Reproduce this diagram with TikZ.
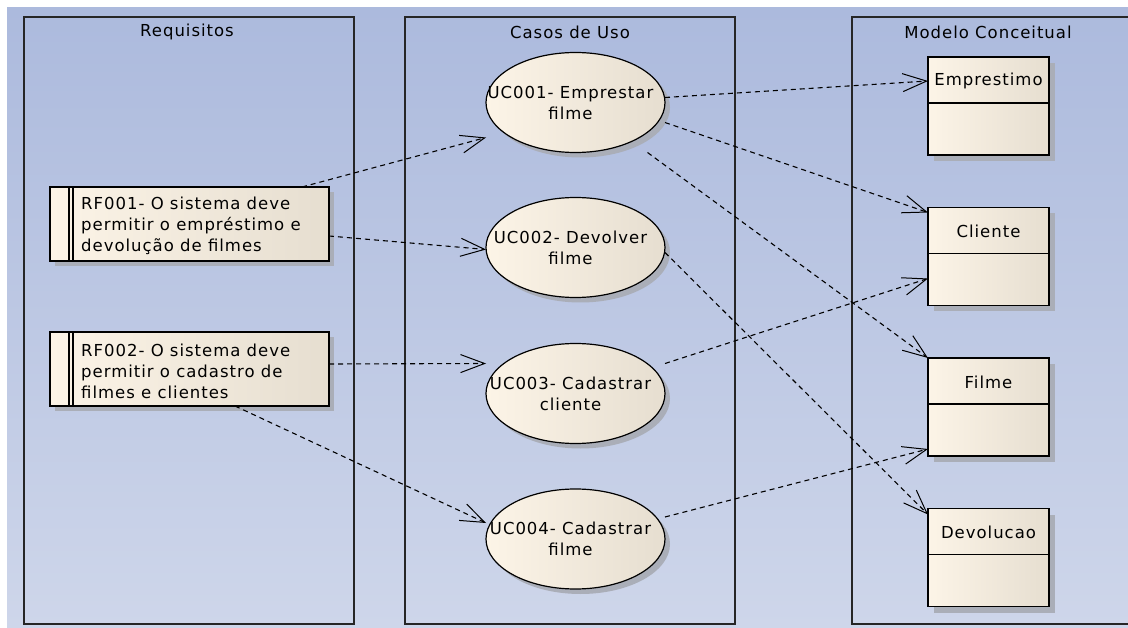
\documentclass[tikz,border=0pt]{standalone}
\usepackage{fontspec}
\newfontfamily\uifont{DejaVu Sans}[LetterSpace=6]
\usetikzlibrary{arrows.meta,shapes.geometric,calc,shadows}
\definecolor{bgtop}{RGB}{172,186,221}
\definecolor{bgbot}{RGB}{206,214,234}
\definecolor{creamL}{RGB}{252,244,231}
\definecolor{creamR}{RGB}{230,222,208}
\definecolor{shade}{RGB}{170,174,184}
\tikzset{
  frame/.style={draw=black!85,line width=1.8pt,inner sep=0pt,outer sep=0pt},
  title/.style={inner sep=0pt,anchor=center},
  reqbox/.style={draw=black,line width=1.4pt,left color=creamL,right color=creamR,
    minimum width=279pt,minimum height=74pt,inner sep=0pt,outer sep=0pt,
    drop shadow={shadow xshift=5pt,shadow yshift=-5pt,fill=shade,opacity=1}},
  ucase/.style={ellipse,draw=black,line width=1.2pt,left color=creamL,right color=creamR,
    minimum width=179pt,minimum height=100pt,inner sep=0pt,outer sep=0pt,
    drop shadow={shadow xshift=5pt,shadow yshift=-5pt,fill=shade,opacity=1}},
  classbox/.style={draw=black,line width=1.4pt,left color=creamL,right color=creamR,
    minimum width=121pt,minimum height=98pt,inner sep=0pt,outer sep=0pt,
    drop shadow={shadow xshift=6pt,shadow yshift=-6pt,fill=shade,opacity=1}},
  txt/.style={inner sep=0pt,align=center},
  dep/.style={draw=black,line width=1.1pt,dash pattern=on 5pt off 4pt,
    -{Straight Barb[length=24pt,width=18pt,line width=1pt]}},
}
\begin{document}
\begin{tikzpicture}[x=1pt,y=-1pt,font=\uifont\fontsize{16.5}{21}\selectfont]
\useasboundingbox (0,0) rectangle (1128,628);
\clip (0,0) rectangle (1128,628);
\fill[white] (0,0) rectangle (1128,628);
\fill[top color=bgtop,bottom color=bgbot] (7,8) rectangle (1128,628);

% frames
\node[frame,minimum width=330pt,minimum height=607pt] (req) at (189,320.5) {};
\node[frame,minimum width=330pt,minimum height=607pt] (cas) at (570,320.5) {};
\node[frame,minimum width=290pt,minimum height=607pt] (mod) at (997,320.5) {};
\node[title] (treq) at ($(req.north)+(-2,15)$) {Requisitos};
\node[title] (tcas) at ($(cas.north)+(0,15)$) {Casos de Uso};
\node[title] (tmod) at (988,32) {Modelo Conceitual};

% requirement boxes
\node[reqbox] (rf1) at (189.5,224) {};
\node[reqbox] (rf2) at (189.5,369) {};
\foreach \r in {rf1,rf2}{
  \draw[line width=1.1pt] ($(\r.north west)+(19,0)$) -- ($(\r.south west)+(19,0)$);
  \draw[line width=1.1pt] ($(\r.north west)+(23,0)$) -- ($(\r.south west)+(23,0)$);
}
\node[txt,align=left,anchor=west] (rf1t) at ($(rf1.west)+(31,2)$) {RF001- O sistema deve\\permitir o empréstimo e\\devolução de filmes};
\node[txt,align=left,anchor=west] (rf2t) at ($(rf2.west)+(31,2)$) {RF002- O sistema deve\\permitir o cadastro de\\filmes e clientes};

% use cases
\node[ucase] (uc1) at (575.5,102.5) {};
\node[ucase] (uc2) at (575.5,247.5) {};
\node[ucase] (uc3) at (575.5,393.5) {};
\node[ucase] (uc4) at (575.5,539) {};
\node[txt] (uc1t) at ($(uc1.center)+(-5,0)$) {UC001- Emprestar\\filme};
\node[txt] (uc2t) at ($(uc2.center)+(-5,0)$) {UC002- Devolver\\filme};
\node[txt] (uc3t) at ($(uc3.center)+(-5,0)$) {UC003- Cadastrar\\cliente};
\node[txt] (uc4t) at ($(uc4.center)+(-5,0)$) {UC004- Cadastrar\\filme};

% classes
\node[classbox] (emp) at (988.5,106) {};
\node[classbox] (cli) at (988.5,256.5) {};
\node[classbox] (fil) at (988.5,407) {};
\node[classbox] (dev) at (988.5,557.5) {};
\foreach \c/\n in {emp/Emprestimo,cli/Cliente,fil/Filme,dev/Devolucao}{
  \draw[line width=1.2pt] ($(\c.north west)+(0,46)$) -- ($(\c.north east)+(0,46)$);
  \node[txt] (\c t) at ($(\c.north)+(0,24)$) {\n};
}

% dependencies
\draw[dep] ($(rf1.north east)+(-27,0)$) -- ($(uc1.west)+(0,35)$);
\draw[dep] ($(rf1.east)+(0,12)$) -- ($(uc2.west)+(0,2)$);
\draw[dep] ($(rf2.east)+(0,-5)$) -- ($(uc3.west)+(0,-30)$);
\draw[dep] ($(rf2.south west)+(185,0)$) -- ($(uc4.west)+(0,-16)$);
\draw[dep] ($(uc1.east)+(0,-5)$) -- ($(emp.west)+(0,-25)$);
\draw[dep] ($(uc1.east)+(0,20)$) -- ($(cli.north west)+(0,5)$);
\draw[dep] ($(uc1.south)+(72,0)$) -- (fil.north west);
\draw[dep] ($(uc2.east)+(0,5)$) -- ($(dev.north west)+(0,6)$);
\draw[dep] ($(uc3.east)+(0,-30)$) -- ($(cli.south west)+(0,-27)$);
\draw[dep] ($(uc4.east)+(0,-22)$) -- ($(fil.south west)+(0,-7)$);
\end{tikzpicture}
\end{document}
